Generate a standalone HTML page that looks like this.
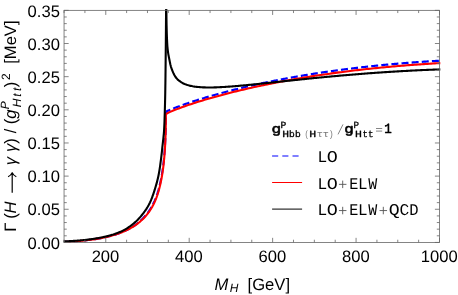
<!DOCTYPE html>
<html><head><meta charset="utf-8"><title>plot</title>
<style>
html,body{margin:0;padding:0;background:#fff;}
body{width:458px;height:295px;overflow:hidden;}
svg{display:block;font-family:"Liberation Sans",sans-serif;will-change:transform;text-rendering:geometricPrecision;}
</style></head><body>
<svg width="458" height="295" viewBox="0 0 458 295">
<rect x="0" y="0" width="458" height="295" fill="#fff"/>
<defs><clipPath id="cp"><rect x="60" y="9.2" width="382" height="236"/></clipPath></defs>
<g fill="none" stroke-linejoin="round" clip-path="url(#cp)">
<polyline points="64.05,241.88 65.46,241.82 66.88,241.76 68.29,241.69 69.71,241.62 71.12,241.54 72.53,241.45 73.95,241.36 75.36,241.26 76.78,241.16 78.19,241.05 79.61,240.94 81.02,240.81 82.43,240.68 83.85,240.55 85.26,240.40 86.68,240.25 88.09,240.08 89.50,239.91 90.92,239.73 92.33,239.54 93.75,239.33 95.16,239.12 96.57,238.89 97.99,238.66 99.40,238.41 100.82,238.14 102.23,237.87 103.65,237.57 105.06,237.27 106.47,236.94 107.89,236.60 109.30,236.25 110.72,235.87 112.13,235.48 113.54,235.07 114.96,234.64 116.37,234.18 117.79,233.71 119.20,233.20 120.61,232.67 122.03,232.12 123.44,231.53 124.86,230.90 126.27,230.24 127.69,229.54 129.10,228.80 130.51,228.00 131.93,227.16 133.34,226.27 134.76,225.32 136.17,224.30 137.58,223.22 139.00,222.07 140.41,220.83 141.83,219.50 143.24,218.07 144.66,216.52 146.07,214.85 147.48,213.04 147.48,213.04 147.64,212.83 147.79,212.62 147.95,212.41 148.10,212.19 148.26,211.98 148.41,211.76 148.57,211.54 148.72,211.32 148.88,211.09 149.03,210.86 149.19,210.63 149.34,210.40 149.50,210.17 149.65,209.93 149.80,209.69 149.96,209.45 150.11,209.20 150.27,208.96 150.42,208.71 150.58,208.46 150.73,208.20 150.89,207.94 151.04,207.68 151.20,207.42 151.35,207.15 151.51,206.88 151.66,206.61 151.82,206.33 151.97,206.06 152.13,205.77 152.28,205.49 152.44,205.20 152.59,204.91 152.75,204.61 152.90,204.31 153.05,204.01 153.21,203.70 153.36,203.39 153.52,203.08 153.67,202.76 153.83,202.44 153.98,202.11 154.14,201.77 154.29,201.43 154.45,201.09 154.60,200.74 154.76,200.38 154.91,200.02 155.07,199.65 155.22,199.28 155.38,198.90 155.53,198.52 155.69,198.13 155.84,197.73 156.00,197.33 156.15,196.92 156.30,196.50 156.46,196.07 156.61,195.64 156.77,195.20 156.92,194.76 157.08,194.30 157.23,193.84 157.39,193.37 157.54,192.89 157.70,192.40 157.85,191.90 158.01,191.40 158.16,190.88 158.32,190.36 158.47,189.82 158.63,189.28 158.78,188.72 158.94,188.15 159.09,187.57 159.25,186.98 159.40,186.38 159.55,185.76 159.71,185.13 159.86,184.49 160.02,183.83 160.17,183.16 160.33,182.47 160.48,181.77 160.64,181.05 160.79,180.31 160.95,179.55 161.10,178.77 161.26,177.98 161.41,177.16 161.57,176.32 161.72,175.45 161.88,174.56 162.03,173.64 162.19,172.70 162.34,171.72 162.50,170.71 162.65,169.67 162.80,168.58 162.96,167.45 163.11,166.26 163.27,165.03 163.42,163.74 163.58,162.39 163.73,160.97 163.89,159.48 164.04,157.90 164.20,156.23 164.35,154.45 164.51,152.56 164.66,150.52 164.82,148.31 164.97,145.89 165.13,143.20 165.28,140.17 165.44,136.66 165.59,132.37 165.75,126.61 165.90,111.80" stroke="#0000ff" stroke-width="2.1" stroke-dasharray="7 3.15"/>
<polyline points="165.90,111.80 166.82,111.27 167.73,110.84 168.65,110.43 169.56,110.04 170.48,109.65 171.39,109.27 172.31,108.90 173.22,108.53 174.14,108.17 175.05,107.82 175.97,107.47 176.88,107.12 177.80,106.77 178.71,106.43 179.63,106.10 180.54,105.76 181.46,105.43 182.37,105.10 183.29,104.78 184.20,104.46 185.12,104.14 186.03,103.82 186.95,103.51 187.86,103.19 188.78,102.88 189.69,102.58 190.61,102.27 191.52,101.97 192.44,101.67 193.35,101.37 194.27,101.07 195.18,100.78 196.10,100.48 197.01,100.19 197.93,99.91 198.84,99.62 199.76,99.33 200.67,99.05 201.59,98.77 202.50,98.49 203.42,98.21 204.33,97.94 205.25,97.66 206.16,97.39 207.08,97.12 207.99,96.85 208.91,96.58 209.82,96.31 210.74,96.05 211.65,95.79 212.57,95.52 213.48,95.26 214.40,95.00 215.31,94.75 216.23,94.49 217.14,94.24 218.06,93.98 218.97,93.73 219.89,93.48 220.80,93.23 221.72,92.99 222.63,92.74 223.55,92.50 224.46,92.25 225.38,92.01 226.29,91.77 227.21,91.53 228.12,91.29 229.04,91.06 229.95,90.82 230.87,90.59 231.78,90.36 232.70,90.12 233.61,89.89 234.53,89.66 235.44,89.44 236.36,89.21 237.27,88.98 238.19,88.76 239.10,88.54 240.02,88.31 240.93,88.09 241.85,87.87 242.76,87.66 243.68,87.44 244.59,87.22 245.51,87.01 246.42,86.79 247.34,86.58 248.25,86.37 249.17,86.16 250.08,85.95 251.00,85.74 251.91,85.53 252.83,85.33 253.74,85.12 254.66,84.92 255.57,84.71 256.49,84.51 257.41,84.31 258.32,84.11 259.24,83.91 260.15,83.72 261.07,83.52 261.98,83.32 262.90,83.13 263.81,82.93 264.73,82.74 265.64,82.55 266.56,82.36 267.47,82.17 268.39,81.98 269.30,81.79 270.22,81.61 271.13,81.42 272.05,81.24 272.96,81.05 273.88,80.87 274.79,80.69 275.71,80.51 276.62,80.33 277.54,80.15 278.45,79.97 279.37,79.79 280.28,79.62 281.20,79.44 282.11,79.27 283.03,79.09 283.94,78.92 284.86,78.75 285.77,78.58 286.69,78.41 287.60,78.24 288.52,78.07 289.43,77.90 290.35,77.74 291.26,77.57 292.18,77.41 293.09,77.24 294.01,77.08 294.92,76.92 295.84,76.76 296.75,76.60 297.67,76.44 298.58,76.28 299.50,76.12 300.41,75.96 301.33,75.81 302.24,75.65 303.16,75.50 304.07,75.35 304.99,75.19 305.90,75.04 306.82,74.89 307.73,74.74 308.65,74.59 309.56,74.44 310.48,74.30 311.39,74.15 312.31,74.00 313.22,73.86 314.14,73.71 315.05,73.57 315.97,73.43 316.88,73.29 317.80,73.15 318.71,73.01 319.63,72.87 320.54,72.73 321.46,72.59 322.37,72.45 323.29,72.32 324.20,72.18 325.12,72.05 326.03,71.91 326.95,71.78 327.86,71.65 328.78,71.52 329.69,71.38 330.61,71.25 331.52,71.13 332.44,71.00 333.35,70.87 334.27,70.74 335.18,70.62 336.10,70.49 337.01,70.37 337.93,70.24 338.84,70.12 339.76,70.00 340.67,69.87 341.59,69.75 342.50,69.63 343.42,69.51 344.33,69.40 345.25,69.28 346.16,69.16 347.08,69.04 347.99,68.93 348.91,68.81 349.83,68.70 350.74,68.58 351.66,68.47 352.57,68.36 353.49,68.25 354.40,68.14 355.32,68.03 356.23,67.92 357.15,67.81 358.06,67.70 358.98,67.59 359.89,67.49 360.81,67.38 361.72,67.28 362.64,67.17 363.55,67.07 364.47,66.97 365.38,66.86 366.30,66.76 367.21,66.66 368.13,66.56 369.04,66.46 369.96,66.36 370.87,66.26 371.79,66.17 372.70,66.07 373.62,65.97 374.53,65.88 375.45,65.78 376.36,65.69 377.28,65.60 378.19,65.50 379.11,65.41 380.02,65.32 380.94,65.23 381.85,65.14 382.77,65.05 383.68,64.96 384.60,64.87 385.51,64.78 386.43,64.70 387.34,64.61 388.26,64.53 389.17,64.44 390.09,64.36 391.00,64.27 391.92,64.19 392.83,64.11 393.75,64.03 394.66,63.95 395.58,63.87 396.49,63.79 397.41,63.71 398.32,63.63 399.24,63.55 400.15,63.47 401.07,63.40 401.98,63.32 402.90,63.25 403.81,63.17 404.73,63.10 405.64,63.03 406.56,62.95 407.47,62.88 408.39,62.81 409.30,62.74 410.22,62.67 411.13,62.60 412.05,62.53 412.96,62.46 413.88,62.40 414.79,62.33 415.71,62.26 416.62,62.20 417.54,62.13 418.45,62.07 419.37,62.00 420.28,61.94 421.20,61.88 422.11,61.82 423.03,61.75 423.94,61.69 424.86,61.63 425.77,61.57 426.69,61.51 427.60,61.46 428.52,61.40 429.43,61.34 430.35,61.28 431.26,61.23 432.18,61.17 433.09,61.12 434.01,61.06 434.92,61.01 435.84,60.96 436.75,60.91 437.67,60.85 438.58,60.80 439.50,60.75" stroke="#0000ff" stroke-width="2.2" stroke-dasharray="7 3.15" stroke-dashoffset="2.15"/>
<polyline points="64.05,241.88 65.46,241.82 66.88,241.76 68.29,241.69 69.71,241.61 71.12,241.53 72.53,241.45 73.95,241.36 75.36,241.26 76.78,241.16 78.19,241.05 79.61,240.94 81.02,240.81 82.43,240.68 83.85,240.54 85.26,240.40 86.68,240.25 88.09,240.08 89.50,239.91 90.92,239.73 92.33,239.54 93.75,239.34 95.16,239.12 96.57,238.90 97.99,238.66 99.40,238.41 100.82,238.15 102.23,237.88 103.65,237.59 105.06,237.28 106.47,236.96 107.89,236.62 109.30,236.27 110.72,235.90 112.13,235.51 113.54,235.11 114.96,234.68 116.37,234.23 117.79,233.76 119.20,233.27 120.61,232.75 122.03,232.20 123.44,231.62 124.86,231.01 126.27,230.36 127.69,229.68 129.10,228.96 130.51,228.19 131.93,227.38 133.34,226.52 134.76,225.60 136.17,224.64 137.58,223.60 139.00,222.50 140.41,221.32 141.83,220.06 143.24,218.70 144.66,217.23 146.07,215.64 147.48,213.91 147.48,213.91 147.64,213.71 147.79,213.51 147.95,213.31 148.10,213.10 148.26,212.89 148.41,212.69 148.57,212.47 148.72,212.26 148.88,212.05 149.03,211.83 149.19,211.61 149.34,211.39 149.50,211.16 149.65,210.93 149.80,210.70 149.96,210.47 150.11,210.24 150.27,210.00 150.42,209.76 150.58,209.52 150.73,209.27 150.89,209.03 151.04,208.77 151.20,208.52 151.35,208.26 151.51,208.00 151.66,207.74 151.82,207.48 151.97,207.21 152.13,206.94 152.28,206.66 152.44,206.38 152.59,206.10 152.75,205.81 152.90,205.53 153.05,205.23 153.21,204.94 153.36,204.64 153.52,204.33 153.67,204.02 153.83,203.71 153.98,203.39 154.14,203.06 154.29,202.73 154.45,202.40 154.60,202.06 154.76,201.72 154.91,201.37 155.07,201.01 155.22,200.65 155.38,200.28 155.53,199.90 155.69,199.52 155.84,199.14 156.00,198.74 156.15,198.35 156.30,197.94 156.46,197.53 156.61,197.10 156.77,196.68 156.92,196.24 157.08,195.80 157.23,195.35 157.39,194.89 157.54,194.42 157.70,193.94 157.85,193.46 158.01,192.96 158.16,192.46 158.32,191.95 158.47,191.42 158.63,190.89 158.78,190.35 158.94,189.79 159.09,189.23 159.25,188.65 159.40,188.06 159.55,187.45 159.71,186.84 159.86,186.21 160.02,185.56 160.17,184.90 160.33,184.23 160.48,183.54 160.64,182.83 160.79,182.11 160.95,181.36 161.10,180.60 161.26,179.82 161.41,179.01 161.57,178.19 161.72,177.34 161.88,176.46 162.03,175.56 162.19,174.63 162.34,173.67 162.50,172.68 162.65,171.65 162.80,170.58 162.96,169.46 163.11,168.29 163.27,167.06 163.42,165.78 163.58,164.43 163.73,163.02 163.89,161.53 164.04,159.95 164.20,158.29 164.35,156.51 164.51,154.61 164.66,152.58 164.82,150.37 164.97,147.95 165.13,145.28 165.28,142.26 165.44,138.76 165.59,134.50 165.75,128.79 165.90,114.20 167.74,113.03 169.58,112.16 171.42,111.35 173.27,110.58 175.11,109.84 176.95,109.12 178.79,108.41 180.63,107.73 182.47,107.06 184.32,106.40 186.16,105.76 188.00,105.12 189.84,104.50 191.68,103.89 193.52,103.28 195.37,102.69 197.21,102.10 199.05,101.53 200.89,100.96 202.73,100.40 204.57,99.84 206.42,99.29 208.26,98.75 210.10,98.22 211.94,97.69 213.78,97.17 215.62,96.66 217.47,96.15 219.31,95.65 221.15,95.15 222.99,94.66 224.83,94.18 226.67,93.70 228.51,93.22 230.36,92.75 232.20,92.29 234.04,91.83 235.88,91.38 237.72,90.93 239.56,90.49 241.41,90.05 243.25,89.61 245.09,89.18 246.93,88.76 248.77,88.34 250.61,87.92 252.46,87.51 254.30,87.10 256.14,86.70 257.98,86.30 259.82,85.91 261.66,85.52 263.51,85.13 265.35,84.75 267.19,84.37 269.03,83.99 270.87,83.62 272.71,83.26 274.56,82.90 276.40,82.54 278.24,82.18 280.08,81.83 281.92,81.48 283.76,81.14 285.60,80.80 287.45,80.46 289.29,80.13 291.13,79.80 292.97,79.48 294.81,79.15 296.65,78.84 298.50,78.52 300.34,78.21 302.18,77.90 304.02,77.59 305.86,77.29 307.70,76.99 309.55,76.70 311.39,76.41 313.23,76.12 315.07,75.83 316.91,75.55 318.75,75.27 320.60,75.00 322.44,74.72 324.28,74.45 326.12,74.19 327.96,73.93 329.80,73.67 331.64,73.41 333.49,73.15 335.33,72.90 337.17,72.65 339.01,72.41 340.85,72.17 342.69,71.93 344.54,71.69 346.38,71.46 348.22,71.23 350.06,71.00 351.90,70.77 353.74,70.55 355.59,70.33 357.43,70.12 359.27,69.90 361.11,69.69 362.95,69.49 364.79,69.28 366.64,69.08 368.48,68.88 370.32,68.68 372.16,68.49 374.00,68.30 375.84,68.11 377.69,67.92 379.53,67.74 381.37,67.56 383.21,67.38 385.05,67.20 386.89,67.03 388.73,66.86 390.58,66.69 392.42,66.52 394.26,66.36 396.10,66.20 397.94,66.04 399.78,65.89 401.63,65.74 403.47,65.59 405.31,65.44 407.15,65.29 408.99,65.15 410.83,65.01 412.68,64.87 414.52,64.74 416.36,64.60 418.20,64.47 420.04,64.35 421.88,64.22 423.73,64.10 425.57,63.98 427.41,63.86 429.25,63.74 431.09,63.63 432.93,63.52 434.78,63.41 436.62,63.30 438.46,63.20 440.30,63.08" stroke="#ff0000" stroke-width="2.1"/>
<polyline points="63.60,241.44 64.25,241.41 64.91,241.38 65.56,241.35 66.22,241.32 66.87,241.29 67.53,241.26 68.18,241.23 68.84,241.19 69.49,241.16 70.15,241.12 70.80,241.09 71.46,241.05 72.11,241.01 72.77,240.97 73.42,240.92 74.07,240.88 74.73,240.84 75.38,240.79 76.04,240.74 76.69,240.69 77.35,240.64 78.00,240.59 78.66,240.54 79.31,240.48 79.97,240.43 80.62,240.37 81.28,240.31 81.93,240.25 82.59,240.19 83.24,240.12 83.89,240.06 84.55,239.99 85.20,239.92 85.86,239.85 86.51,239.77 87.17,239.70 87.82,239.62 88.48,239.54 89.13,239.46 89.79,239.37 90.44,239.29 91.10,239.20 91.75,239.11 92.41,239.02 93.06,238.92 93.72,238.83 94.37,238.73 95.02,238.62 95.68,238.52 96.33,238.41 96.99,238.30 97.64,238.19 98.30,238.07 98.95,237.96 99.61,237.83 100.26,237.71 100.92,237.58 101.57,237.45 102.23,237.32 102.88,237.18 103.54,237.04 104.19,236.90 104.84,236.75 105.50,236.60 106.15,236.45 106.81,236.29 107.46,236.13 108.12,235.96 108.77,235.79 109.43,235.61 110.08,235.43 110.74,235.24 111.39,235.05 112.05,234.85 112.70,234.65 113.36,234.45 114.01,234.23 114.66,234.02 115.32,233.79 115.97,233.56 116.63,233.33 117.28,233.08 117.94,232.84 118.59,232.58 119.25,232.32 119.90,232.05 120.56,231.77 121.21,231.49 121.87,231.18 122.52,230.87 123.18,230.54 123.83,230.19 124.48,229.84 125.14,229.47 125.79,229.08 126.45,228.69 127.10,228.28 127.76,227.85 128.41,227.42 129.07,226.97 129.72,226.51 130.38,226.03 131.03,225.54 131.69,225.04 132.34,224.53 133.00,224.00 133.65,223.46 134.31,222.91 134.96,222.34 135.61,221.76 136.27,221.16 136.92,220.54 137.58,219.90 138.23,219.23 138.89,218.54 139.54,217.82 140.20,217.08 140.85,216.32 141.51,215.53 142.16,214.72 142.82,213.88 143.47,213.02 144.13,212.14 144.78,211.24 145.43,210.30 146.09,209.33 146.74,208.32 147.40,207.27 148.05,206.16 148.71,204.99 149.36,203.75 150.02,202.43 150.67,200.99 151.33,199.43 151.98,197.76 152.64,195.99 153.29,194.14 153.95,192.20 154.60,190.18 155.09,188.47 155.56,186.94 156.02,185.41 156.46,183.88 156.88,182.35 157.28,180.82 157.66,179.29 158.02,177.76 158.35,176.24 158.66,174.71 158.94,173.18 159.21,171.65 159.47,170.12 159.71,168.59 159.94,167.06 160.16,165.53 160.37,164.00 160.57,162.47 160.78,160.94 160.98,159.41 161.17,157.88 161.35,156.35 161.53,154.82 161.71,153.29 161.88,151.76 162.04,150.24 162.21,148.71 162.37,147.18 162.53,145.65 162.70,144.12 162.87,142.59 163.04,141.06 163.22,139.53 163.39,138.00 163.55,136.47 163.71,134.94 163.85,133.41 163.97,131.88 164.08,130.35 164.16,128.82 164.24,127.29 164.31,125.76 164.38,124.24 164.44,122.71 164.50,121.18 164.55,119.65 164.60,118.12 164.65,116.59 164.70,115.06 164.75,113.53 164.79,112.00 164.84,110.47 164.88,108.94 164.92,107.41 164.96,105.88 165.00,104.35 165.04,102.82 165.07,101.29 165.11,99.76 165.14,98.24 165.17,96.71 165.20,95.18 165.23,93.65 165.26,92.12 165.28,90.59 165.31,89.06 165.33,87.53 165.35,86.00 165.37,84.47 165.40,82.94 165.42,81.41 165.44,79.88 165.46,78.35 165.48,76.82 165.49,75.29 165.51,73.76 165.53,72.24 165.55,70.71 165.56,69.18 165.58,67.65 165.60,66.12 165.62,64.59 165.63,63.06 165.65,61.53 165.66,60.00 165.68,58.47 165.69,56.94 165.71,55.41 165.72,53.88 165.74,52.35 165.75,50.82 165.77,49.29 165.78,47.76 165.80,46.24 165.81,44.71 165.82,43.18 165.84,41.65 165.85,40.12 165.86,38.59 165.88,37.06 165.89,35.53 165.90,34.00 165.91,32.47 165.93,30.94 165.94,29.41 165.95,27.88 165.96,26.35 165.98,24.82 165.99,23.29 166.00,21.76 166.01,20.24 166.02,18.71 166.03,17.18 166.05,15.65 166.06,14.12 166.07,12.59 166.08,11.06 166.09,9.53 166.10,8.00" stroke="#000" stroke-width="2.1"/>
<polyline points="166.30,8.00 166.31,8.87 166.31,9.74 166.32,10.61 166.33,11.48 166.34,12.34 166.35,13.21 166.36,14.08 166.37,14.95 166.39,15.82 166.40,16.69 166.42,17.56 166.43,18.43 166.45,19.30 166.47,20.17 166.49,21.03 166.50,21.90 166.52,22.77 166.54,23.64 166.56,24.51 166.58,25.38 166.61,26.25 166.63,27.12 166.65,27.99 166.67,28.86 166.69,29.72 166.72,30.59 166.74,31.46 166.76,32.33 166.79,33.20 166.82,34.07 166.84,34.94 166.87,35.81 166.90,36.68 166.94,37.55 166.97,38.41 167.01,39.28 167.05,40.15 167.09,41.02 167.13,41.89 167.17,42.76 167.22,43.63 167.27,44.50 167.32,45.37 167.39,46.24 167.46,47.10 167.54,47.97 167.63,48.84 167.72,49.71 167.82,50.58 167.93,51.45 168.04,52.32 168.17,53.19 168.31,54.06 168.46,54.93 168.62,55.79 168.79,56.66 168.96,57.53 169.14,58.40 169.31,59.27 169.49,60.14 169.66,61.01 169.83,61.88 170.00,62.75 170.18,63.62 170.37,64.48 170.59,65.35 170.82,66.22 171.09,67.09 171.37,67.96 171.67,68.83 171.99,69.70 172.32,70.57 172.67,71.44 173.05,72.31 173.45,73.17 173.88,74.04 174.33,74.91 174.81,75.78 175.30,76.65 176.32,78.00 177.35,79.14 178.37,80.12 179.39,80.97 180.42,81.72 181.44,82.37 182.46,82.96 183.49,83.47 184.51,83.94 185.53,84.35 186.55,84.72 187.58,85.05 188.60,85.35 189.62,85.62 190.65,85.86 191.67,86.08 192.69,86.28 193.72,86.45 194.74,86.61 195.76,86.74 196.79,86.87 197.81,86.98 198.83,87.07 199.86,87.16 200.88,87.23 201.90,87.29 202.93,87.34 203.95,87.38 204.97,87.41 205.99,87.44 207.02,87.46 208.04,87.47 209.06,87.47 210.09,87.47 211.11,87.46 212.13,87.44 213.16,87.43 214.18,87.40 215.20,87.37 216.23,87.34 217.25,87.30 218.27,87.26 219.30,87.21 220.32,87.16 221.34,87.11 222.37,87.06 223.39,87.00 224.41,86.94 225.44,86.87 226.46,86.81 227.48,86.74 228.50,86.67 229.53,86.59 230.55,86.52 231.57,86.44 232.60,86.36 233.62,86.28 234.64,86.19 235.67,86.11 236.69,86.02 237.71,85.93 238.74,85.84 239.76,85.75 240.78,85.66 241.81,85.57 242.83,85.47 243.85,85.38 244.88,85.28 245.90,85.18 246.92,85.09 247.94,84.99 248.97,84.89 249.99,84.79 251.01,84.68 252.04,84.58 253.06,84.48 254.08,84.38 255.11,84.27 256.13,84.17 257.15,84.06 258.18,83.96 259.20,83.85 260.22,83.74 261.25,83.64 262.27,83.53 263.29,83.42 264.32,83.32 265.34,83.21 266.36,83.10 267.38,82.99 268.41,82.88 269.43,82.77 270.45,82.67 271.48,82.56 272.50,82.45 273.52,82.34 274.55,82.23 275.57,82.12 276.59,82.01 277.62,81.90 278.64,81.79 279.66,81.68 280.69,81.57 281.71,81.46 282.73,81.35 283.76,81.25 284.78,81.14 285.80,81.03 286.83,80.92 287.85,80.81 288.87,80.70 289.89,80.59 290.92,80.49 291.94,80.38 292.96,80.27 293.99,80.16 295.01,80.05 296.03,79.95 297.06,79.84 298.08,79.73 299.10,79.63 300.13,79.52 301.15,79.42 302.17,79.31 303.20,79.20 304.22,79.10 305.24,79.00 306.27,78.89 307.29,78.79 308.31,78.68 309.33,78.58 310.36,78.48 311.38,78.37 312.40,78.27 313.43,78.17 314.45,78.07 315.47,77.97 316.50,77.87 317.52,77.77 318.54,77.67 319.57,77.57 320.59,77.47 321.61,77.37 322.64,77.27 323.66,77.17 324.68,77.07 325.71,76.98 326.73,76.88 327.75,76.78 328.77,76.69 329.80,76.59 330.82,76.50 331.84,76.40 332.87,76.31 333.89,76.21 334.91,76.12 335.94,76.03 336.96,75.93 337.98,75.84 339.01,75.75 340.03,75.66 341.05,75.57 342.08,75.48 343.10,75.39 344.12,75.30 345.15,75.21 346.17,75.13 347.19,75.04 348.22,74.95 349.24,74.86 350.26,74.78 351.28,74.69 352.31,74.61 353.33,74.52 354.35,74.44 355.38,74.36 356.40,74.27 357.42,74.19 358.45,74.11 359.47,74.03 360.49,73.95 361.52,73.87 362.54,73.79 363.56,73.71 364.59,73.63 365.61,73.55 366.63,73.47 367.66,73.40 368.68,73.32 369.70,73.24 370.72,73.17 371.75,73.09 372.77,73.02 373.79,72.95 374.82,72.87 375.84,72.80 376.86,72.73 377.89,72.66 378.91,72.59 379.93,72.52 380.96,72.45 381.98,72.38 383.00,72.31 384.03,72.24 385.05,72.17 386.07,72.10 387.10,72.04 388.12,71.97 389.14,71.91 390.16,71.84 391.19,71.78 392.21,71.71 393.23,71.65 394.26,71.59 395.28,71.53 396.30,71.47 397.33,71.40 398.35,71.34 399.37,71.28 400.40,71.23 401.42,71.17 402.44,71.11 403.47,71.05 404.49,71.00 405.51,70.94 406.54,70.88 407.56,70.83 408.58,70.77 409.61,70.72 410.63,70.67 411.65,70.61 412.67,70.56 413.70,70.51 414.72,70.46 415.74,70.41 416.77,70.36 417.79,70.31 418.81,70.26 419.84,70.21 420.86,70.17 421.88,70.12 422.91,70.07 423.93,70.03 424.95,69.98 425.98,69.94 427.00,69.90 428.02,69.85 429.05,69.81 430.07,69.77 431.09,69.73 432.11,69.69 433.14,69.64 434.16,69.61 435.18,69.57 436.21,69.53 437.23,69.49 438.25,69.45 439.28,69.42 440.30,69.37" stroke="#000" stroke-width="2.1"/>
</g>
<rect x="64.05" y="10.35" width="375.45" height="232.08" fill="none" stroke="#666" stroke-width="0.8"/>
<line x1="64.05" y1="242.43" x2="64.05" y2="239.73" stroke="#666" stroke-width="0.80"/>
<line x1="64.05" y1="10.35" x2="64.05" y2="13.05" stroke="#666" stroke-width="0.80"/>
<line x1="84.91" y1="242.43" x2="84.91" y2="239.73" stroke="#666" stroke-width="0.80"/>
<line x1="84.91" y1="10.35" x2="84.91" y2="13.05" stroke="#666" stroke-width="0.80"/>
<line x1="105.77" y1="242.43" x2="105.77" y2="237.83" stroke="#666" stroke-width="0.80"/>
<line x1="105.77" y1="10.35" x2="105.77" y2="14.95" stroke="#666" stroke-width="0.80"/>
<line x1="126.62" y1="242.43" x2="126.62" y2="239.73" stroke="#666" stroke-width="0.80"/>
<line x1="126.62" y1="10.35" x2="126.62" y2="13.05" stroke="#666" stroke-width="0.80"/>
<line x1="147.48" y1="242.43" x2="147.48" y2="239.73" stroke="#666" stroke-width="0.80"/>
<line x1="147.48" y1="10.35" x2="147.48" y2="13.05" stroke="#666" stroke-width="0.80"/>
<line x1="168.34" y1="242.43" x2="168.34" y2="239.73" stroke="#666" stroke-width="0.80"/>
<line x1="168.34" y1="10.35" x2="168.34" y2="13.05" stroke="#666" stroke-width="0.80"/>
<line x1="189.20" y1="242.43" x2="189.20" y2="237.83" stroke="#666" stroke-width="0.80"/>
<line x1="189.20" y1="10.35" x2="189.20" y2="14.95" stroke="#666" stroke-width="0.80"/>
<line x1="210.06" y1="242.43" x2="210.06" y2="239.73" stroke="#666" stroke-width="0.80"/>
<line x1="210.06" y1="10.35" x2="210.06" y2="13.05" stroke="#666" stroke-width="0.80"/>
<line x1="230.92" y1="242.43" x2="230.92" y2="239.73" stroke="#666" stroke-width="0.80"/>
<line x1="230.92" y1="10.35" x2="230.92" y2="13.05" stroke="#666" stroke-width="0.80"/>
<line x1="251.77" y1="242.43" x2="251.77" y2="239.73" stroke="#666" stroke-width="0.80"/>
<line x1="251.77" y1="10.35" x2="251.77" y2="13.05" stroke="#666" stroke-width="0.80"/>
<line x1="272.63" y1="242.43" x2="272.63" y2="237.83" stroke="#666" stroke-width="0.80"/>
<line x1="272.63" y1="10.35" x2="272.63" y2="14.95" stroke="#666" stroke-width="0.80"/>
<line x1="293.49" y1="242.43" x2="293.49" y2="239.73" stroke="#666" stroke-width="0.80"/>
<line x1="293.49" y1="10.35" x2="293.49" y2="13.05" stroke="#666" stroke-width="0.80"/>
<line x1="314.35" y1="242.43" x2="314.35" y2="239.73" stroke="#666" stroke-width="0.80"/>
<line x1="314.35" y1="10.35" x2="314.35" y2="13.05" stroke="#666" stroke-width="0.80"/>
<line x1="335.21" y1="242.43" x2="335.21" y2="239.73" stroke="#666" stroke-width="0.80"/>
<line x1="335.21" y1="10.35" x2="335.21" y2="13.05" stroke="#666" stroke-width="0.80"/>
<line x1="356.07" y1="242.43" x2="356.07" y2="237.83" stroke="#666" stroke-width="0.80"/>
<line x1="356.07" y1="10.35" x2="356.07" y2="14.95" stroke="#666" stroke-width="0.80"/>
<line x1="376.93" y1="242.43" x2="376.93" y2="239.73" stroke="#666" stroke-width="0.80"/>
<line x1="376.93" y1="10.35" x2="376.93" y2="13.05" stroke="#666" stroke-width="0.80"/>
<line x1="397.78" y1="242.43" x2="397.78" y2="239.73" stroke="#666" stroke-width="0.80"/>
<line x1="397.78" y1="10.35" x2="397.78" y2="13.05" stroke="#666" stroke-width="0.80"/>
<line x1="418.64" y1="242.43" x2="418.64" y2="239.73" stroke="#666" stroke-width="0.80"/>
<line x1="418.64" y1="10.35" x2="418.64" y2="13.05" stroke="#666" stroke-width="0.80"/>
<line x1="439.50" y1="242.43" x2="439.50" y2="237.83" stroke="#666" stroke-width="0.80"/>
<line x1="439.50" y1="10.35" x2="439.50" y2="14.95" stroke="#666" stroke-width="0.80"/>
<line x1="64.05" y1="242.43" x2="68.65" y2="242.43" stroke="#666" stroke-width="0.80"/>
<line x1="439.50" y1="242.43" x2="434.90" y2="242.43" stroke="#666" stroke-width="0.80"/>
<line x1="64.05" y1="235.80" x2="66.75" y2="235.80" stroke="#666" stroke-width="0.80"/>
<line x1="439.50" y1="235.80" x2="436.80" y2="235.80" stroke="#666" stroke-width="0.80"/>
<line x1="64.05" y1="229.17" x2="66.75" y2="229.17" stroke="#666" stroke-width="0.80"/>
<line x1="439.50" y1="229.17" x2="436.80" y2="229.17" stroke="#666" stroke-width="0.80"/>
<line x1="64.05" y1="222.54" x2="66.75" y2="222.54" stroke="#666" stroke-width="0.80"/>
<line x1="439.50" y1="222.54" x2="436.80" y2="222.54" stroke="#666" stroke-width="0.80"/>
<line x1="64.05" y1="215.91" x2="66.75" y2="215.91" stroke="#666" stroke-width="0.80"/>
<line x1="439.50" y1="215.91" x2="436.80" y2="215.91" stroke="#666" stroke-width="0.80"/>
<line x1="64.05" y1="209.28" x2="68.65" y2="209.28" stroke="#666" stroke-width="0.80"/>
<line x1="439.50" y1="209.28" x2="434.90" y2="209.28" stroke="#666" stroke-width="0.80"/>
<line x1="64.05" y1="202.64" x2="66.75" y2="202.64" stroke="#666" stroke-width="0.80"/>
<line x1="439.50" y1="202.64" x2="436.80" y2="202.64" stroke="#666" stroke-width="0.80"/>
<line x1="64.05" y1="196.01" x2="66.75" y2="196.01" stroke="#666" stroke-width="0.80"/>
<line x1="439.50" y1="196.01" x2="436.80" y2="196.01" stroke="#666" stroke-width="0.80"/>
<line x1="64.05" y1="189.38" x2="66.75" y2="189.38" stroke="#666" stroke-width="0.80"/>
<line x1="439.50" y1="189.38" x2="436.80" y2="189.38" stroke="#666" stroke-width="0.80"/>
<line x1="64.05" y1="182.75" x2="66.75" y2="182.75" stroke="#666" stroke-width="0.80"/>
<line x1="439.50" y1="182.75" x2="436.80" y2="182.75" stroke="#666" stroke-width="0.80"/>
<line x1="64.05" y1="176.12" x2="68.65" y2="176.12" stroke="#666" stroke-width="0.80"/>
<line x1="439.50" y1="176.12" x2="434.90" y2="176.12" stroke="#666" stroke-width="0.80"/>
<line x1="64.05" y1="169.49" x2="66.75" y2="169.49" stroke="#666" stroke-width="0.80"/>
<line x1="439.50" y1="169.49" x2="436.80" y2="169.49" stroke="#666" stroke-width="0.80"/>
<line x1="64.05" y1="162.86" x2="66.75" y2="162.86" stroke="#666" stroke-width="0.80"/>
<line x1="439.50" y1="162.86" x2="436.80" y2="162.86" stroke="#666" stroke-width="0.80"/>
<line x1="64.05" y1="156.23" x2="66.75" y2="156.23" stroke="#666" stroke-width="0.80"/>
<line x1="439.50" y1="156.23" x2="436.80" y2="156.23" stroke="#666" stroke-width="0.80"/>
<line x1="64.05" y1="149.60" x2="66.75" y2="149.60" stroke="#666" stroke-width="0.80"/>
<line x1="439.50" y1="149.60" x2="436.80" y2="149.60" stroke="#666" stroke-width="0.80"/>
<line x1="64.05" y1="142.97" x2="68.65" y2="142.97" stroke="#666" stroke-width="0.80"/>
<line x1="439.50" y1="142.97" x2="434.90" y2="142.97" stroke="#666" stroke-width="0.80"/>
<line x1="64.05" y1="136.34" x2="66.75" y2="136.34" stroke="#666" stroke-width="0.80"/>
<line x1="439.50" y1="136.34" x2="436.80" y2="136.34" stroke="#666" stroke-width="0.80"/>
<line x1="64.05" y1="129.71" x2="66.75" y2="129.71" stroke="#666" stroke-width="0.80"/>
<line x1="439.50" y1="129.71" x2="436.80" y2="129.71" stroke="#666" stroke-width="0.80"/>
<line x1="64.05" y1="123.07" x2="66.75" y2="123.07" stroke="#666" stroke-width="0.80"/>
<line x1="439.50" y1="123.07" x2="436.80" y2="123.07" stroke="#666" stroke-width="0.80"/>
<line x1="64.05" y1="116.44" x2="66.75" y2="116.44" stroke="#666" stroke-width="0.80"/>
<line x1="439.50" y1="116.44" x2="436.80" y2="116.44" stroke="#666" stroke-width="0.80"/>
<line x1="64.05" y1="109.81" x2="68.65" y2="109.81" stroke="#666" stroke-width="0.80"/>
<line x1="439.50" y1="109.81" x2="434.90" y2="109.81" stroke="#666" stroke-width="0.80"/>
<line x1="64.05" y1="103.18" x2="66.75" y2="103.18" stroke="#666" stroke-width="0.80"/>
<line x1="439.50" y1="103.18" x2="436.80" y2="103.18" stroke="#666" stroke-width="0.80"/>
<line x1="64.05" y1="96.55" x2="66.75" y2="96.55" stroke="#666" stroke-width="0.80"/>
<line x1="439.50" y1="96.55" x2="436.80" y2="96.55" stroke="#666" stroke-width="0.80"/>
<line x1="64.05" y1="89.92" x2="66.75" y2="89.92" stroke="#666" stroke-width="0.80"/>
<line x1="439.50" y1="89.92" x2="436.80" y2="89.92" stroke="#666" stroke-width="0.80"/>
<line x1="64.05" y1="83.29" x2="66.75" y2="83.29" stroke="#666" stroke-width="0.80"/>
<line x1="439.50" y1="83.29" x2="436.80" y2="83.29" stroke="#666" stroke-width="0.80"/>
<line x1="64.05" y1="76.66" x2="68.65" y2="76.66" stroke="#666" stroke-width="0.80"/>
<line x1="439.50" y1="76.66" x2="434.90" y2="76.66" stroke="#666" stroke-width="0.80"/>
<line x1="64.05" y1="70.03" x2="66.75" y2="70.03" stroke="#666" stroke-width="0.80"/>
<line x1="439.50" y1="70.03" x2="436.80" y2="70.03" stroke="#666" stroke-width="0.80"/>
<line x1="64.05" y1="63.40" x2="66.75" y2="63.40" stroke="#666" stroke-width="0.80"/>
<line x1="439.50" y1="63.40" x2="436.80" y2="63.40" stroke="#666" stroke-width="0.80"/>
<line x1="64.05" y1="56.77" x2="66.75" y2="56.77" stroke="#666" stroke-width="0.80"/>
<line x1="439.50" y1="56.77" x2="436.80" y2="56.77" stroke="#666" stroke-width="0.80"/>
<line x1="64.05" y1="50.14" x2="66.75" y2="50.14" stroke="#666" stroke-width="0.80"/>
<line x1="439.50" y1="50.14" x2="436.80" y2="50.14" stroke="#666" stroke-width="0.80"/>
<line x1="64.05" y1="43.50" x2="68.65" y2="43.50" stroke="#666" stroke-width="0.80"/>
<line x1="439.50" y1="43.50" x2="434.90" y2="43.50" stroke="#666" stroke-width="0.80"/>
<line x1="64.05" y1="36.87" x2="66.75" y2="36.87" stroke="#666" stroke-width="0.80"/>
<line x1="439.50" y1="36.87" x2="436.80" y2="36.87" stroke="#666" stroke-width="0.80"/>
<line x1="64.05" y1="30.24" x2="66.75" y2="30.24" stroke="#666" stroke-width="0.80"/>
<line x1="439.50" y1="30.24" x2="436.80" y2="30.24" stroke="#666" stroke-width="0.80"/>
<line x1="64.05" y1="23.61" x2="66.75" y2="23.61" stroke="#666" stroke-width="0.80"/>
<line x1="439.50" y1="23.61" x2="436.80" y2="23.61" stroke="#666" stroke-width="0.80"/>
<line x1="64.05" y1="16.98" x2="66.75" y2="16.98" stroke="#666" stroke-width="0.80"/>
<line x1="439.50" y1="16.98" x2="436.80" y2="16.98" stroke="#666" stroke-width="0.80"/>
<line x1="64.05" y1="10.35" x2="68.65" y2="10.35" stroke="#666" stroke-width="0.80"/>
<line x1="439.50" y1="10.35" x2="434.90" y2="10.35" stroke="#666" stroke-width="0.80"/>
<g fill="#000">
<text x="105.47" y="262.2" text-anchor="middle" font-size="16.6">200</text>
<text x="188.90" y="262.2" text-anchor="middle" font-size="16.6">400</text>
<text x="272.33" y="262.2" text-anchor="middle" font-size="16.6">600</text>
<text x="355.77" y="262.2" text-anchor="middle" font-size="16.6">800</text>
<text x="439.20" y="262.2" text-anchor="middle" font-size="16.6">1000</text>
<text x="59.9" y="248.58" text-anchor="end" font-size="16.6">0.00</text>
<text x="59.9" y="215.43" text-anchor="end" font-size="16.6">0.05</text>
<text x="59.9" y="182.27" text-anchor="end" font-size="16.6">0.10</text>
<text x="59.9" y="149.12" text-anchor="end" font-size="16.6">0.15</text>
<text x="59.9" y="115.96" text-anchor="end" font-size="16.6">0.20</text>
<text x="59.9" y="82.81" text-anchor="end" font-size="16.6">0.25</text>
<text x="59.9" y="49.65" text-anchor="end" font-size="16.6">0.30</text>
<text x="59.9" y="16.50" text-anchor="end" font-size="16.6">0.35</text>
<text x="214.6" y="289.7" font-size="16.6" font-style="italic">M</text>
<text x="229.8" y="292.2" font-size="12.0" font-style="italic">H</text>
<text x="247.6" y="289.7" font-size="16.6">[GeV]</text>
<g transform="translate(15.9,0) rotate(-90)">
<text x="-231.70" y="0.00" font-size="16.60" >Γ</text>
<text x="-218.80" y="0.00" font-size="16.60" >(</text>
<text x="-213.50" y="0.00" font-size="16.60" font-style="italic">H</text>
<text x="-165.20" y="0.50" font-size="16.60" font-style="italic">γ</text>
<text x="-151.90" y="0.50" font-size="16.60" font-style="italic">γ</text>
<text x="-143.80" y="0.00" font-size="16.60" >)</text>
<text x="-133.20" y="0.00" font-size="16.60" >/</text>
<text x="-124.20" y="0.00" font-size="16.60" >(</text>
<text x="-118.80" y="0.00" font-size="16.60" font-style="italic">g</text>
<text x="-109.20" y="-7.20" font-size="12.00" font-style="italic">P</text>
<text x="-107.20" y="4.90" font-size="12.00" font-style="italic">H</text>
<text x="-96.80" y="4.90" font-size="12.00" font-style="italic">t</text>
<text x="-91.10" y="4.90" font-size="12.00" font-style="italic">t</text>
<text x="-87.30" y="0.00" font-size="16.60" >)</text>
<text x="-80.10" y="-6.10" font-size="12.00" >2</text>
<text x="-63.80" y="0.00" font-size="16.60" >[MeV]</text>
</g>
<path d="M12.2 192.7 L12.2 173 M8.1 176.8 Q11 175.3 12.2 172.7 Q13.4 175.3 16.3 176.8" fill="none" stroke="#000" stroke-width="1.2" stroke-linejoin="round"/>
<line x1="272.1" y1="156" x2="302" y2="156" stroke="#0000ff" stroke-opacity="0.5" stroke-width="2" stroke-dasharray="6.1 4.1"/>
<line x1="272.1" y1="182.5" x2="302.1" y2="182.5" stroke="#ff0000" stroke-width="1"/>
<line x1="272.1" y1="209.1" x2="302.1" y2="209.1" stroke="#000" stroke-width="1"/>
<text transform="matrix(0.9840 0 0 1 317.433 161.800)" font-size="16.40" font-family="Liberation Mono, monospace" fill="#000">L</text>
<text transform="matrix(1.1220 0 0 1 326.684 161.800)" font-size="16.40" font-family="Liberation Mono, monospace" fill="#000">O</text>
<text transform="matrix(0.9840 0 0 1 317.433 188.600)" font-size="16.40" font-family="Liberation Mono, monospace" fill="#000">L</text>
<text transform="matrix(1.1220 0 0 1 326.684 188.600)" font-size="16.40" font-family="Liberation Mono, monospace" fill="#000">O</text>
<path d="M338.95 184.35 H346.45 M342.70 180.60 V188.10" stroke="#555" stroke-width="0.90" fill="none"/>
<text transform="matrix(0.9236 0 0 1 349.202 188.600)" font-size="16.40" font-family="Liberation Mono, monospace" fill="#000">E</text>
<text transform="matrix(0.9695 0 0 1 358.060 188.600)" font-size="16.40" font-family="Liberation Mono, monospace" fill="#000">L</text>
<text transform="matrix(0.9152 0 0 1 368.300 188.600)" font-size="16.40" font-family="Liberation Mono, monospace" fill="#000">W</text>
<text transform="matrix(0.9840 0 0 1 317.433 214.800)" font-size="16.40" font-family="Liberation Mono, monospace" fill="#000">L</text>
<text transform="matrix(1.1220 0 0 1 326.684 214.800)" font-size="16.40" font-family="Liberation Mono, monospace" fill="#000">O</text>
<path d="M338.95 210.55 H346.45 M342.70 206.80 V214.30" stroke="#555" stroke-width="0.90" fill="none"/>
<text transform="matrix(0.9236 0 0 1 349.202 214.800)" font-size="16.40" font-family="Liberation Mono, monospace" fill="#000">E</text>
<text transform="matrix(0.9695 0 0 1 358.060 214.800)" font-size="16.40" font-family="Liberation Mono, monospace" fill="#000">L</text>
<text transform="matrix(0.9152 0 0 1 368.300 214.800)" font-size="16.40" font-family="Liberation Mono, monospace" fill="#000">W</text>
<path d="M379.55 210.55 H387.05 M383.30 206.80 V214.30" stroke="#555" stroke-width="0.90" fill="none"/>
<text transform="matrix(1.1100 0 0 1 388.793 214.800)" font-size="16.40" font-family="Liberation Mono, monospace" fill="#000">Q</text>
<text transform="matrix(0.9951 0 0 1 399.500 214.800)" font-size="16.40" font-family="Liberation Mono, monospace" fill="#000">C</text>
<text transform="matrix(0.9466 0 0 1 409.372 214.800)" font-size="16.40" font-family="Liberation Mono, monospace" fill="#000">D</text>
<text transform="matrix(1.2364 0 0 1 271.453 133.100)" font-size="13.00" font-family="Liberation Mono, monospace" fill="#000" stroke="#000" stroke-width="0.55" stroke-linejoin="round">g</text>
<text transform="matrix(1.0245 0 0 1 280.588 127.600)" font-size="9.40" font-family="Liberation Mono, monospace" fill="#000" stroke="#000" stroke-width="0.30" stroke-linejoin="round">P</text>
<text transform="matrix(1.2050 0 0 1 282.254 136.600)" font-size="9.40" font-family="Liberation Mono, monospace" fill="#000" stroke="#000" stroke-width="0.30" stroke-linejoin="round">H</text>
<text transform="matrix(1.0284 0 0 1 288.905 136.600)" font-size="9.40" font-family="Liberation Mono, monospace" fill="#000" stroke="#000" stroke-width="0.30" stroke-linejoin="round">b</text>
<text transform="matrix(1.0284 0 0 1 295.005 136.600)" font-size="9.40" font-family="Liberation Mono, monospace" fill="#000" stroke="#000" stroke-width="0.30" stroke-linejoin="round">b</text>
<text transform="matrix(0.7937 0 0 1 304.554 136.600)" font-size="9.40" font-family="Liberation Mono, monospace" fill="#777">(</text>
<text transform="matrix(1.2291 0 0 1 309.236 136.900)" font-size="9.40" font-family="Liberation Mono, monospace" fill="#000" stroke="#000" stroke-width="0.30" stroke-linejoin="round">H</text>
<text transform="matrix(1.1823 0 0 1 316.491 136.900)" font-size="9.40" font-family="Liberation Mono, monospace" fill="#777">τ</text>
<text transform="matrix(1.1823 0 0 1 322.491 136.900)" font-size="9.40" font-family="Liberation Mono, monospace" fill="#777">τ</text>
<text transform="matrix(0.8731 0 0 1 328.654 136.600)" font-size="9.40" font-family="Liberation Mono, monospace" fill="#777">)</text>
<line x1="338.0" y1="134.4" x2="343.0" y2="124.4" stroke="#777" stroke-width="0.9"/>
<text transform="matrix(1.2192 0 0 1 344.368 133.100)" font-size="13.00" font-family="Liberation Mono, monospace" fill="#000" stroke="#000" stroke-width="0.55" stroke-linejoin="round">g</text>
<text transform="matrix(0.9789 0 0 1 353.522 127.600)" font-size="9.40" font-family="Liberation Mono, monospace" fill="#000" stroke="#000" stroke-width="0.30" stroke-linejoin="round">P</text>
<text transform="matrix(1.2291 0 0 1 354.936 136.900)" font-size="9.40" font-family="Liberation Mono, monospace" fill="#000" stroke="#000" stroke-width="0.30" stroke-linejoin="round">H</text>
<text transform="matrix(0.9484 0 0 1 362.623 136.900)" font-size="9.40" font-family="Liberation Mono, monospace" fill="#000" stroke="#000" stroke-width="0.30" stroke-linejoin="round">t</text>
<text transform="matrix(0.9748 0 0 1 368.100 136.900)" font-size="9.40" font-family="Liberation Mono, monospace" fill="#000" stroke="#000" stroke-width="0.30" stroke-linejoin="round">t</text>
<path d="M376 128.5 H382.2 M376 131.1 H382.2" stroke="#777" stroke-width="0.9" fill="none"/>
<text transform="matrix(0.8938 0 0 1 384.196 133.300)" font-size="14.00" font-family="Liberation Mono, monospace" fill="#000" stroke="#000" stroke-width="0.60" stroke-linejoin="round">1</text>
</g>
</svg>
</body></html>
